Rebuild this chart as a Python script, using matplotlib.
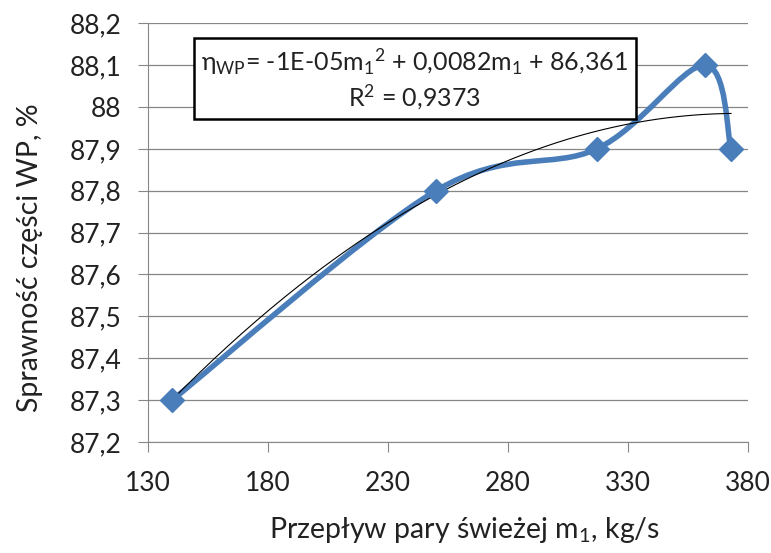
import numpy as np
import matplotlib
matplotlib.use("Agg")
import matplotlib.pyplot as plt
from matplotlib.path import Path
from matplotlib.patches import PathPatch
from matplotlib.ticker import FuncFormatter, FixedLocator, MultipleLocator

# data
m1 = [140, 250, 317, 362, 373]          # kg/s
eta = [87.3, 87.8, 87.9, 88.1, 87.9]    # %
x_ticks = [130, 180, 230, 280, 330, 380]
eq_text = r"$\mathregular{\eta_{WP}}$= -1E-05m$\mathregular{_1}$$\mathregular{^2}$ + 0,0082m$\mathregular{_1}$ + 86,361"
r2_text = r"R$\mathregular{^2}$ = 0,9373"

plt.rcParams['font.family'] = ['Lato', 'DejaVu Sans']
plt.rcParams['mathtext.fontset'] = 'custom'
plt.rcParams['mathtext.rm'] = 'Lato'
plt.rcParams['mathtext.it'] = 'Lato'

blue = '#4a7ebb'
grey = '#868686'
txt = '#222222'

fig = plt.figure(figsize=(7.71, 5.53), dpi=100)
ax = fig.add_axes([0.192, 0.2007, 0.778, 0.7573])

# smoothed line (Excel style bezier through the points)
pts = np.column_stack([m1, eta])
verts = [tuple(pts[0])]
codes = [Path.MOVETO]
n = len(pts)
for i in range(n - 1):
    p0 = pts[max(i - 1, 0)]
    p1 = pts[i]
    p2 = pts[i + 1]
    p3 = pts[min(i + 2, n - 1)]
    c1 = p1 + (p2 - p0) / 6
    c2 = p2 - (p3 - p1) / 6
    verts += [tuple(c1), tuple(c2), tuple(p2)]
    codes += [Path.CURVE4] * 3
ax.add_patch(PathPatch(Path(verts, codes), fill=False, edgecolor=blue,
                       lw=4, capstyle='round', joinstyle='round', zorder=3))
ax.plot(m1, eta, ls='none', marker='D', ms=12, color=blue, zorder=4)

# 2nd order trendline
coef = np.polyfit(m1, eta, 2)
xs = np.linspace(min(m1), max(m1), 200)
ax.plot(xs, np.polyval(coef, xs), color='black', lw=0.8, zorder=3.5)

ax.set_xlim(130, 380)
ax.set_ylim(87.2, 88.2)
ax.xaxis.set_major_locator(FixedLocator(x_ticks))
ax.yaxis.set_major_locator(MultipleLocator(0.1))
ax.yaxis.set_major_formatter(FuncFormatter(lambda v, p: ('%g' % round(v, 1)).replace('.', ',')))
ax.xaxis.set_major_formatter(FuncFormatter(lambda v, p: '%d' % v))
ax.grid(axis='y', color=grey, lw=0.9)
ax.set_axisbelow(True)
for s in ['top', 'right']:
    ax.spines[s].set_visible(False)
for s in ['left', 'bottom']:
    ax.spines[s].set_color(grey)
ax.tick_params(direction='out', length=7, color=grey, labelsize=19, labelcolor=txt)
ax.tick_params(axis='y', pad=12)
ax.tick_params(axis='x', pad=14)

ax.set_xlabel("Przepływ pary świeżej m$\\mathregular{_1}$, kg/s", fontsize=20.5, color=txt)
ax.set_ylabel("Sprawność części WP, %", fontsize=20.5, color=txt)
ax.xaxis.set_label_coords(0.528, -0.175)
ax.yaxis.set_label_coords(-0.175, 0.44)

fig.text(0.538, 0.857, eq_text + "\n" + r2_text, ha='center', va='center',
         fontsize=18, linespacing=1.25, color=txt,
         bbox=dict(boxstyle='square,pad=0.3', fc='white', ec='black', lw=1.8))

fig.savefig("out.png", dpi=100)
